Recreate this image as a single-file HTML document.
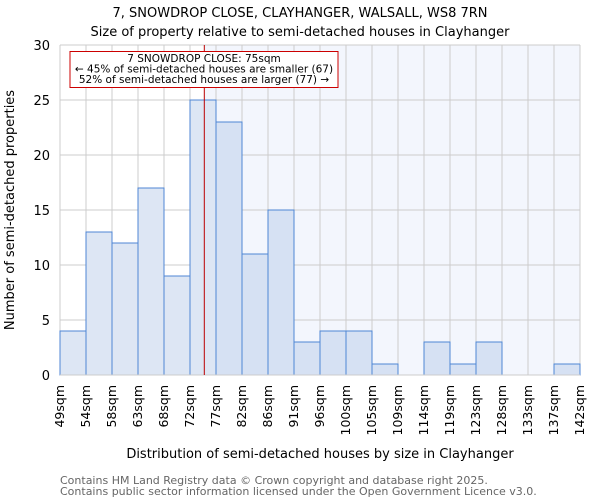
<!DOCTYPE html>
<html><head><meta charset="utf-8"><style>
body{margin:0;background:#fff;font-family:"DejaVu Sans","Liberation Sans",sans-serif}
</style></head><body>
<svg id="c" width="600" height="500" xmlns="http://www.w3.org/2000/svg" font-family="DejaVu Sans, Liberation Sans, sans-serif">
<text x="300" y="17" text-anchor="middle" font-size="13">7, SNOWDROP CLOSE, CLAYHANGER, WALSALL, WS8 7RN</text>
<text x="300" y="36" text-anchor="middle" font-size="13">Size of property relative to semi-detached houses in Clayhanger</text>
<g id="plot"></g>
<text transform="translate(14,210) rotate(-90)" text-anchor="middle" font-size="13">Number of semi-detached properties</text>
<text x="320" y="458" text-anchor="middle" font-size="13">Distribution of semi-detached houses by size in Clayhanger</text>
<text x="60" y="484" font-size="11" fill="#666">Contains HM Land Registry data © Crown copyright and database right 2025.</text>
<text x="60" y="495" font-size="11" fill="#666">Contains public sector information licensed under the Open Government Licence v3.0.</text>
</svg>
<script>
const categories=["49sqm","54sqm","58sqm","63sqm","68sqm","72sqm","77sqm","82sqm","86sqm","91sqm","96sqm","100sqm","105sqm","109sqm","114sqm","119sqm","123sqm","128sqm","133sqm","137sqm","142sqm"];
const counts=[4,13,12,17,9,25,23,11,15,3,4,4,1,0,3,1,3,0,0,1];
const yTicks=[0,5,10,15,20,25,30];
const markerIndex=5.55;
const NS="http://www.w3.org/2000/svg";
const L=60,R=580,T=45,B=375,yMax=30;
const bw=(R-L)/counts.length;
const xs=i=>L+i*bw, ys=v=>B-v/yMax*(B-T);
const g=document.getElementById('plot');
function mk(t,a,p){const e=document.createElementNS(NS,t);for(const k in a)e.setAttribute(k,a[k]);(p||g).appendChild(e);return e;}
const mx=xs(markerIndex);
let e=mk('rect',{x:mx,y:T,width:R-mx,height:B-T,fill:'#f3f6fd'});


yTicks.forEach(v=>{
 let l=mk('line',{x1:L,x2:R,y1:ys(v),y2:ys(v),stroke:'#ccc'});
 
 
 let t=mk('text',{x:L-10,y:ys(v)+5,'text-anchor':'end','font-size':13});
 t.textContent=v;
 
 
});
for(let i=0;i<=counts.length;i++){
 let l=mk('line',{x1:xs(i),x2:xs(i),y1:T,y2:B,stroke:'#ccc'});
 
 
}
counts.forEach((v,i)=>{
 let r=mk('rect',{x:xs(i),y:ys(v),width:bw,height:B-ys(v),fill:i<6?'#dde6f4':'#d6e1f3',stroke:'#4f86d4','stroke-width':1});
 
 
});
categories.forEach((c,i)=>{
 let t=mk('text',{transform:`translate(${xs(i)+4},385) rotate(-90)`,'text-anchor':'end','font-size':12.5});
 t.textContent=c;
 
 
});
let ax=mk('line',{x1:L,x2:R,y1:B,y2:B,stroke:'#ccc'});


let ml=mk('line',{x1:mx,x2:mx,y1:T,y2:B,stroke:'#b00','stroke-width':1});


let box=mk('rect',{x:70,y:51.5,width:268,height:36,fill:'#fff',stroke:'#c00','stroke-width':1});


["7 SNOWDROP CLOSE: 75sqm","← 45% of semi-detached houses are smaller (67)","52% of semi-detached houses are larger (77) →"].forEach((s,i)=>{
 let t=mk('text',{x:204,y:62+i*10.5,'text-anchor':'middle','font-size':10.5});
 t.textContent=s;
 
 
});
</script>
</body></html>
